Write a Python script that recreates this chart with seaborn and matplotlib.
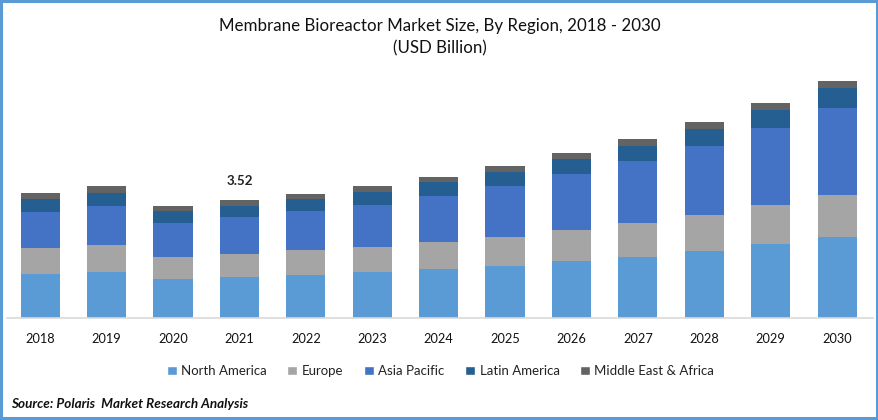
import matplotlib
matplotlib.use("Agg")
import matplotlib.pyplot as plt
from matplotlib.patches import Patch, Rectangle
import numpy as np
import pandas as pd
import seaborn as sns

years = ["2018","2019","2020","2021","2022","2023","2024","2025","2026","2027","2028","2029","2030"]
north_america = [1.31,1.37,1.16,1.22,1.28,1.37,1.46,1.55,1.70,1.82,2.00,2.21,2.42]
europe = [0.78,0.81,0.66,0.69,0.75,0.75,0.81,0.87,0.92,1.01,1.07,1.16,1.25]
asia_pacific = [1.07,1.16,1.01,1.10,1.16,1.25,1.37,1.52,1.67,1.85,2.06,2.30,2.60]
latin_america = [0.39,0.39,0.36,0.33,0.36,0.39,0.42,0.42,0.45,0.45,0.51,0.54,0.60]
middle_east_africa = [0.18,0.21,0.15,0.18,0.15,0.18,0.15,0.18,0.18,0.21,0.21,0.21,0.21]
region_names = ["North America","Europe","Asia Pacific","Latin America","Middle East & Africa"]
region_values = [north_america, europe, asia_pacific, latin_america, middle_east_africa]
colors = ["#5B9BD5","#A5A5A5","#4472C4","#255E91","#636363"]

sns.set_theme(style="white")
plt.rcParams["font.family"] = ["Lato", "DejaVu Sans"]
W, H = 879, 420
fig = plt.figure(figsize=(W/100, H/100), dpi=100)
ax = fig.add_axes([7/W, 1-318/H, 866/W, 258/H])

bottom = np.zeros(len(years))
for name, vals, c in zip(region_names, region_values, colors):
    df = pd.DataFrame({"year": years, "value": vals})
    sns.barplot(data=df, x="year", y="value", color=c, bottom=bottom, width=0.59,
                saturation=1, ax=ax, errorbar=None, linewidth=0)
    bottom = bottom + np.array(vals)

ax.set_xlim(-0.5, 12.54)
ax.set_ylim(0, 258*3.52/118)
ax.set_xlabel(""); ax.set_ylabel("")
ax.set_yticks([])
for s in ["top","left","right"]:
    ax.spines[s].set_visible(False)
ax.spines["bottom"].set_color("#D9D9D9")
ax.spines["bottom"].set_linewidth(1.2)
ax.tick_params(axis="x", length=0, pad=10.5, labelsize=9.2, labelcolor="#111111")

ax.text(3, bottom[3]+0.40, "3.52", ha="center", va="bottom", fontsize=9.6, fontweight="bold", color="#222222")

fig.text(439.5/W, 1-26/H, "Membrane Bioreactor Market Size, By Region, 2018 - 2030", ha="center", va="center", fontsize=12.2, color="#111111")
fig.text(440/W, 1-48/H, "(USD Billion)", ha="center", va="center", fontsize=12.2, color="#111111")

handles = [Patch(facecolor=c, label=n) for n, c in zip(region_names, colors)]
fig.legend(handles=handles, loc="center", bbox_to_anchor=(440.5/W, 1-371/H), ncol=5, frameon=False,
           fontsize=9.5, handlelength=0.75, handleheight=0.75, handletextpad=0.35, columnspacing=1.55,
           labelcolor="#222222")

fig.text(11/W, 1-404/H, "Source: Polaris  Market Research Analysis", ha="left", va="center", fontsize=9.75,
         fontweight="bold", fontstyle="italic", color="#111111")

fig.add_artist(Rectangle((1/W, 2/H), (W-3)/W, (H-3)/H, transform=fig.transFigure, fill=False,
                         edgecolor="#5B9BD5", linewidth=2.2))
fig.savefig("out.png", dpi=100, facecolor="white")
